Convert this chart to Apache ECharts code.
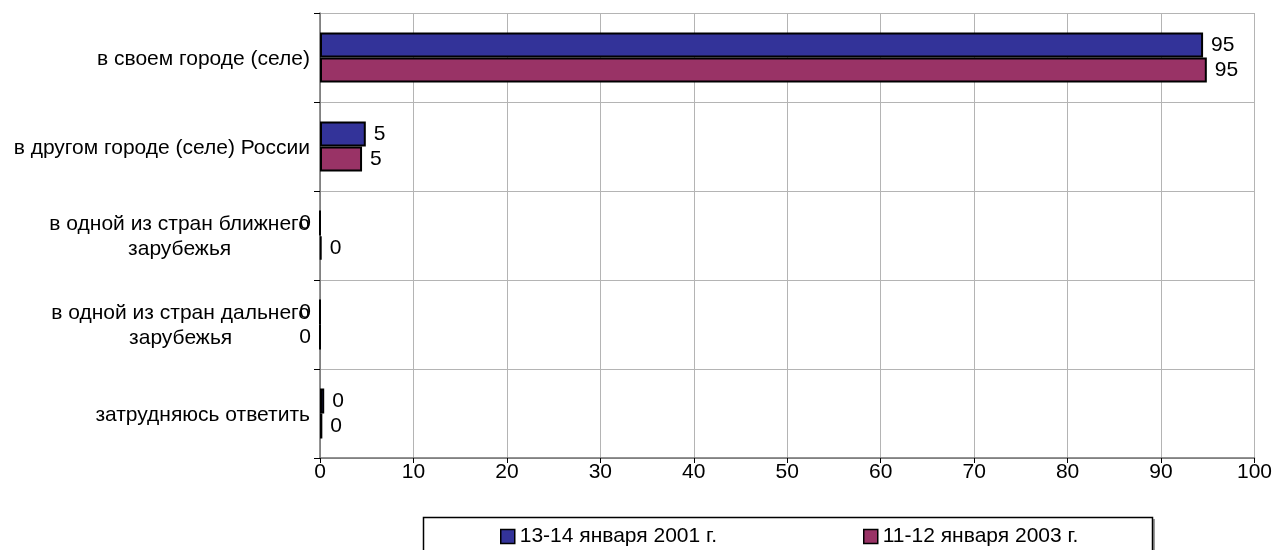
<!DOCTYPE html>
<html>
<head>
<meta charset="utf-8">
<script src="https://cdn.jsdelivr.net/npm/echarts@6/dist/echarts.min.js"></script>
<style>
html,body{margin:0;padding:0;background:#fff;}
#chart{width:1275px;height:550px;}
</style>
</head>
<body>
<div id="chart"></div>
<script>
const categories = [
  'в своем городе (селе)',
  'в другом городе (селе) России',
  'в одной из стран ближнего\nзарубежья',
  'в одной из стран дальнего\nзарубежья',
  'затрудняюсь ответить'
];
const seriesNames = ['13-14 января 2001 г.', '11-12 января 2003 г.'];
const values2001 = [94.5, 4.9, 0, 0, 0.45];
const values2003 = [94.9, 4.5, 0.15, 0, 0.25];
const xTicks = { min: 0, max: 100, interval: 10 };

const FONT = '"Liberation Sans", Arial, sans-serif';
const FS = 21;
const colors = ['#333399', '#993366'];

function toItems(arr) {
  return arr.map(v => ({
    value: v,
    label: { position: v === 0 ? 'left' : 'right' }
  }));
}

function mkSeries(name, vals, color) {
  return {
    name: name,
    type: 'bar',
    data: toItems(vals),
    barWidth: 25,
    barGap: '0%',
    itemStyle: { color: color, borderColor: '#000', borderWidth: 2 },
    label: {
      show: true,
      distance: 8,
      color: '#000',
      fontFamily: FONT,
      fontSize: FS,
      formatter: p => String(Math.round(p.value))
    },
    emphasis: { disabled: true },
    animation: false
  };
}

const chart = echarts.init(document.getElementById('chart'));
chart.setOption({
  backgroundColor: '#fff',
  animation: false,
  grid: { left: 320, right: 19, top: 13, bottom: 92, containLabel: false },
  xAxis: {
    type: 'value',
    min: xTicks.min, max: xTicks.max, interval: xTicks.interval,
    axisLine: { show: true, lineStyle: { color: '#707070', width: 1.5 } },
    axisTick: { show: true, length: 5, lineStyle: { color: '#000' } },
    axisLabel: { color: '#000', fontFamily: FONT, fontSize: FS, margin: 4 },
    splitLine: { show: true, lineStyle: { color: '#b4b4b4', width: 1 } }
  },
  yAxis: {
    type: 'category',
    inverse: true,
    data: categories,
    axisLine: { show: true, lineStyle: { color: '#707070', width: 1.5 } },
    axisTick: { show: true, length: 6, lineStyle: { color: '#000' } },
    axisLabel: {
      color: '#000', fontFamily: FONT, fontSize: FS, margin: 10,
      formatter: v => v.split('\n').map(l => '{c|' + l + '}').join('\n'),
      rich: { c: { align: 'center', fontFamily: FONT, fontSize: FS, lineHeight: 25, color: '#000', padding: [3, 0, 0, 0] } }
    },
    splitLine: { show: true, lineStyle: { color: '#b4b4b4', width: 1 } }
  },
  legend: [
    {
      data: [seriesNames[0]], left: 500, top: 526, padding: 0,
      icon: 'rect', itemWidth: 14, itemHeight: 14,
      itemStyle: { borderColor: '#000', borderWidth: 1.5 },
      textStyle: { color: '#000', fontFamily: FONT, fontSize: FS },
      selectedMode: false
    },
    {
      data: [seriesNames[1]], left: 863, top: 526, padding: 0,
      icon: 'rect', itemWidth: 14, itemHeight: 14,
      itemStyle: { borderColor: '#000', borderWidth: 1.5 },
      textStyle: { color: '#000', fontFamily: FONT, fontSize: FS },
      selectedMode: false
    }
  ],
  graphic: [
    { type: 'rect', z: -1, shape: { x: 1153, y: 519, width: 2, height: 40 }, style: { fill: '#9a9a9a' }, silent: true },
    { type: 'rect', shape: { x: 423.5, y: 517.5, width: 729, height: 60 }, style: { fill: 'none', stroke: '#000', lineWidth: 1.5 }, silent: true }
  ],
  series: [
    mkSeries(seriesNames[0], values2001, colors[0]),
    mkSeries(seriesNames[1], values2003, colors[1])
  ]
});
</script>
</body>
</html>
